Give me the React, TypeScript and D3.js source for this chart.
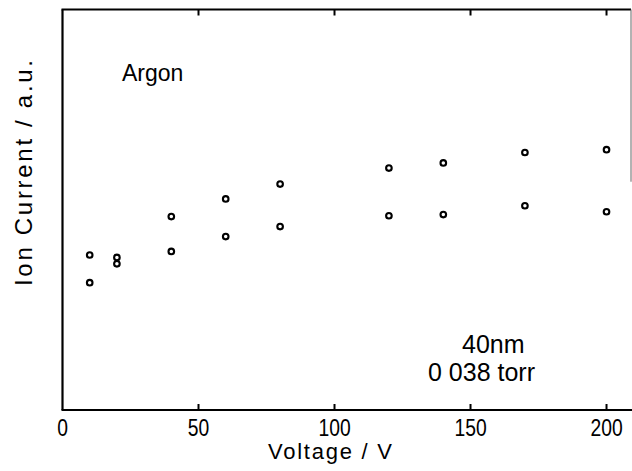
import React from "react";
import * as d3 from "d3";

const voltages = [10, 20, 40, 60, 80, 120, 140, 170, 200];
const upperSeries = [38.7, 38.1, 48.3, 52.7, 56.4, 60.4, 61.7, 64.3, 65.0];
const lowerSeries = [31.8, 36.5, 39.6, 43.3, 45.8, 48.5, 48.8, 51.0, 49.5];
const xTicks = [0, 50, 100, 150, 200];
const xTopTicks = [50, 100, 150, 200];

const W = 632;
const H = 471;
const left = 62.5;
const right = 631;
const top = 9.5;
const bottom = 410;

export default function App() {
  const x = d3.scaleLinear().domain([0, 209]).range([left, right]);
  const y = d3.scaleLinear().domain([0, 100]).range([bottom, top]);
  const font = "'Liberation Sans', Arial, sans-serif";
  const pts = voltages.flatMap((v, i) => [
    { v, c: upperSeries[i] },
    { v, c: lowerSeries[i] },
  ]);
  return (
    <svg width={W} height={H} style={{ position: "absolute", left: 0, top: 0 }}>
      <rect width={W} height={H} fill="#fff" />
      {/* frame */}
      <line x1={left} x2={left} y1={top} y2={bottom} stroke="#000" strokeWidth={2.2} />
      <line x1={left - 1} x2={W} y1={bottom} y2={bottom} stroke="#000" strokeWidth={2.2} />
      <line x1={left - 1} x2={right} y1={top} y2={top} stroke="#000" strokeWidth={2.2} />
      <line x1={right} x2={right} y1={top} y2={y(57)} stroke="#666" strokeWidth={1} />
      {xTicks.map((t) => (
        <g key={"b" + t}>
          {t > 0 && (
            <line x1={x(t)} x2={x(t)} y1={bottom} y2={bottom - 6} stroke="#000" strokeWidth={2} />
          )}
          <text
            transform={`translate(${x(t)}, 435.5) scale(0.84, 1)`}
            textAnchor="middle"
            fontFamily={font}
            fontSize={23}
            fill="#000"
          >
            {t}
          </text>
        </g>
      ))}
      {xTopTicks.map((t) => (
        <line key={"t" + t} x1={x(t)} x2={x(t)} y1={top} y2={top + 6} stroke="#000" strokeWidth={2} />
      ))}
      {pts.map((p, i) => (
        <circle
          key={i}
          cx={x(p.v)}
          cy={y(p.c)}
          r={2.8}
          fill="none"
          stroke="#000"
          strokeWidth={2.1}
        />
      ))}
      <text x={122} y={81} fontFamily={font} fontSize={23} fill="#000">
        Argon
      </text>
      <text x={462} y={353} fontFamily={font} fontSize={25} fill="#000">
        40nm
      </text>
      <text x={428} y={381} fontFamily={font} fontSize={25} fill="#000">
        0 038 torr
      </text>
      <text
        x={268}
        y={459}
        fontFamily={font}
        fontSize={22}
        textLength={124}
        lengthAdjust="spacing"
        fill="#000"
      >
        Voltage / V
      </text>
      <text
        transform={`translate(32, 286) rotate(-90)`}
        fontFamily={font}
        fontSize={24}
        textLength={226}
        lengthAdjust="spacing"
        fill="#000"
      >
        Ion Current / a.u.
      </text>
    </svg>
  );
}
